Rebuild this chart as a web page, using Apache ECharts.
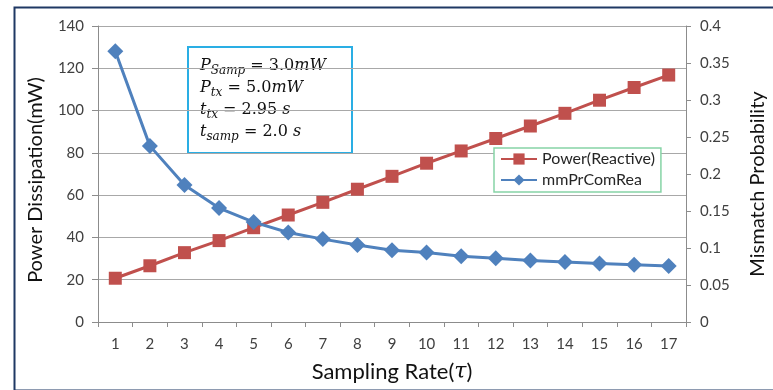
<!DOCTYPE html>
<html><head><meta charset="utf-8">
<script src="https://cdn.jsdelivr.net/npm/echarts@6/dist/echarts.min.js"></script>
<style>html,body{margin:0;padding:0;background:#fff}#c{width:773px;height:390px}</style>
</head><body><div id="c"></div>
<script>
const categories = ['1','2','3','4','5','6','7','8','9','10','11','12','13','14','15','16','17'];
const powerReactive = [20.7, 26.6, 32.8, 38.5, 44.6, 50.6, 56.6, 62.8, 68.9, 75.1, 80.9, 86.8, 92.7, 98.7, 104.9, 110.9, 116.8];
const mmPrComRea = [0.366, 0.238, 0.185, 0.154, 0.135, 0.121, 0.112, 0.104, 0.097, 0.094, 0.089, 0.086, 0.083, 0.081, 0.079, 0.0775, 0.0757];
const leftTicks = {min: 0, max: 140, interval: 20};
const rightTicks = {min: 0, max: 0.4, interval: 0.05};
const seriesNames = ['Power(Reactive)', 'mmPrComRea'];

const font = 'Lato, "Open Sans", sans-serif';
const serif = '"DejaVu Serif", "Liberation Serif", serif';
const chart = echarts.init(document.getElementById('c'));
const axisLineStyle = {color: '#8c8c8c', width: 1};
const sub = {fontFamily: serif, fontStyle: 'italic', fontSize: 12, verticalAlign: 'bottom', lineHeight: 22};
const base = {fontFamily: serif, fontStyle: 'italic', fontSize: 16, lineHeight: 22};
const up = {fontFamily: serif, fontSize: 16, lineHeight: 22};
chart.setOption({
  animation: false,
  grid: {left: 98, right: 87, top: 26, bottom: 68, outerBoundsMode: 'none', containLabel: false},
  legend: {
    data: seriesNames,
    orient: 'vertical',
    left: 494, top: 148,
    itemWidth: 36, itemHeight: 14, itemGap: 5,
    padding: [3, 6, 4, 6],
    borderColor: '#86d4a6', borderWidth: 1.5,
    backgroundColor: '#fff',
    textStyle: {fontFamily: font, fontSize: 16, color: '#262626'}
  },
  xAxis: {
    type: 'category', data: categories, boundaryGap: true,
    name: 'Sampling Rate({t|τ})', nameLocation: 'middle', nameGap: 39,
    nameTextStyle: {fontFamily: font, fontSize: 22, color: '#111',
      rich: {t: {fontFamily: serif, fontStyle: 'italic', fontSize: 22, color: '#111'}}},
    axisLine: {lineStyle: axisLineStyle},
    axisTick: {show: true, length: 5, lineStyle: axisLineStyle, alignWithLabel: false},
    axisLabel: {fontFamily: font, fontSize: 15, color: '#404040', margin: 15, interval: 0}
  },
  yAxis: [{
    type: 'value', min: leftTicks.min, max: leftTicks.max, interval: leftTicks.interval,
    name: 'Power Dissipation(mW)', nameLocation: 'middle', nameGap: 52, nameRotate: 90,
    nameTextStyle: {fontFamily: font, fontSize: 20, color: '#111', padding: [0, 12, 0, 0]},
    axisLine: {show: true, lineStyle: axisLineStyle},
    axisTick: {show: true, length: 6, lineStyle: axisLineStyle},
    axisLabel: {fontFamily: font, fontSize: 15, color: '#404040', margin: 14},
    splitLine: {show: true, lineStyle: {color: '#a8a8a8', width: 1}}
  }, {
    type: 'value', min: rightTicks.min, max: rightTicks.max, interval: rightTicks.interval,
    position: 'right',
    name: 'Mismatch Probability', nameLocation: 'middle', nameGap: 62, nameRotate: 90,
    nameTextStyle: {fontFamily: font, fontSize: 20, color: '#111', padding: [0, 20, 0, 0]},
    axisLine: {show: true, lineStyle: axisLineStyle},
    axisTick: {show: true, length: 5, lineStyle: axisLineStyle},
    axisLabel: {fontFamily: font, fontSize: 15, color: '#404040', margin: 14},
    splitLine: {show: false}
  }],
  series: [{
    name: seriesNames[0], type: 'line', data: powerReactive, yAxisIndex: 0,
    symbol: 'rect', symbolSize: 13,
    lineStyle: {color: '#C0504D', width: 3},
    itemStyle: {color: '#C0504D'}, z: 2
  }, {
    name: seriesNames[1], type: 'line', data: mmPrComRea, yAxisIndex: 1,
    symbol: 'diamond', symbolSize: 16,
    lineStyle: {color: '#4F81BD', width: 3},
    itemStyle: {color: '#4F81BD'}, z: 3
  }],
  graphic: [{
    type: 'rect', left: 12, top: 5, z: -1,
    shape: {width: 790, height: 383},
    style: {fill: 'none', stroke: '#1f3864', lineWidth: 2}
  }, {
    type: 'group', left: 187, top: 46, z: 10,
    children: [{
      type: 'rect', shape: {x: 0, y: 0, width: 164, height: 106},
      style: {fill: '#fff', stroke: '#2aaee4', lineWidth: 2}
    }, {
      type: 'text', x: 12, y: 8,
      style: {
        text: '{b|P}{s|Samp}{u| = 3.0}{b|mW}\n{b|P}{s|tx}{u| = 5.0}{b|mW}\n{b|t}{s|tx}{u| = 2.95 }{b|s}\n{b|t}{s|samp}{u| = 2.0 }{b|s}',
        fill: '#111', lineHeight: 22,
        rich: {b: base, s: sub, u: up}
      }
    }]
  }]
});
</script></body></html>
